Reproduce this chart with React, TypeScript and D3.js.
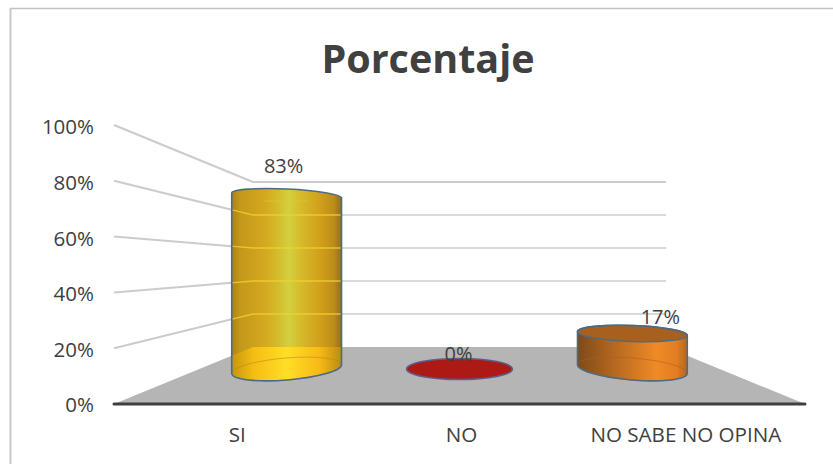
import React from "react";
import * as d3 from "d3";

const categories = ["SI", "NO", "NO SABE NO OPINA"];
const percentages = [83, 0, 17];
const dataLabels = ["83%", "0%", "17%"];
const axisTicks = [0, 20, 40, 60, 80, 100];

const WIDTH = 833;
const HEIGHT = 464;

// Perspective box: front and back edge of the chart floor and walls.
const front = { left: 114, right: 805, floor: 404, top: 125 };
const back = { left: 253, right: 666, floor: 347, top: 182 };
// Depth of the plane that holds the cylinders (0 = front edge, 1 = back edge).
const barDepth = 0.62;
const lerp = d3.interpolateNumber;

const planeLeft = lerp(front.left, back.left)(barDepth);
const planeRight = lerp(front.right, back.right)(barDepth);
const xLabels = d3.scaleBand<string>().domain(categories).range([125, 798]);
const xBars = d3
  .scaleBand<string>()
  .domain(categories)
  .range([planeLeft, planeRight])
  .paddingInner(0.365)
  .paddingOuter(0.1825);
const yFront = d3.scaleLinear().domain([0, 100]).range([front.floor, front.top]);
const yBack = d3.scaleLinear().domain([0, 100]).range([back.floor, back.top]);
const yBars = d3.scaleLinear().domain([0, 100]).range([369, 160]);

// Ellipse flattening and lean change with height because of the camera position.
const capRadius = d3.scaleLinear().domain([0, 17, 83]).range([10.5, 8, 6.5]);
const capTilt = d3.scaleLinear().domain([0, 17, 83]).range([9, 4, -5]);

// Data labels sit a little off the cylinder axis, as the spreadsheet places them.
const labelShift: [number, number][] = [[-3, -23], [-1, -8], [28, -9]];

type Palette = { id: string; stops: [number, string][]; lit: [number, string][]; cap: string | null; base: string };
const palettes: Palette[] = [
  {
    id: "gold",
    stops: [[0, "#a98413"], [0.08, "#c4981a"], [0.3, "#d4a81e"], [0.42, "#d4bc2c"], [0.52, "#d3d040"], [0.62, "#d6bc2b"], [0.8, "#d2a01c"], [0.93, "#bc8c18"], [1, "#8f7019"]],
    lit: [[0, "#c2960f"], [0.2, "#f5bd14"], [0.5, "#ffde26"], [0.8, "#f7b916"], [1, "#b98d12"]],
    cap: null,
    base: "#e9b015",
  },
  {
    id: "red",
    stops: [[0, "#ad1a16"], [1, "#ad1a16"]],
    lit: [[0, "#ad1a16"], [1, "#ad1a16"]],
    cap: "#ad1a16",
    base: "#ad1a16",
  },
  {
    id: "orange",
    stops: [[0, "#7d4a18"], [0.3, "#b0651f"], [0.72, "#f08a26"], [0.9, "#e27e22"], [1, "#b5661f"]],
    lit: [[0, "#7d4a18"], [0.3, "#b0651f"], [0.72, "#f08a26"], [0.9, "#e27e22"], [1, "#b5661f"]],
    cap: "#a8601f",
    base: "#e07c24",
  },
];

// Left and right end points of an ellipse with a given lean across its width.
function ends(cx: number, cy: number, rx: number, slope: number) {
  return { x0: cx - rx, y0: cy - slope * rx, x1: cx + rx, y1: cy + slope * rx };
}

function ellipsePath(cx: number, cy: number, rx: number, ry: number, slope: number) {
  const e = ends(cx, cy, rx, slope);
  const deg = (Math.atan(slope) * 180) / Math.PI;
  return `M${e.x0},${e.y0}A${rx},${ry} ${deg} 1 0 ${e.x1},${e.y1}A${rx},${ry} ${deg} 1 0 ${e.x0},${e.y0}Z`;
}

function Cylinder({ index }: { index: number }) {
  const name = categories[index];
  const value = percentages[index];
  const pal = palettes[index];
  const rx = xBars.bandwidth() / 2;
  const cx = xBars(name)! + rx;
  const side = Math.sign(Math.round(cx - (planeLeft + planeRight) / 2));
  const baseRy = value === 0 ? capRadius(0) : 11;
  const baseSlope = (side * capTilt(0)) / (2 * rx);
  const topSlope = (side * capTilt(value)) / (2 * rx);
  const topY = yBars(value);
  const baseY = yBars(0);
  const outline = "#4d6b85";

  if (value === 0) {
    return <path d={ellipsePath(cx, baseY, rx - 2, baseRy, 0)} fill={pal.base} stroke="#5a5f8c" strokeWidth={1.6} />;
  }

  const b = ends(cx, baseY, rx, baseSlope);
  const t = ends(cx, topY, rx, topSlope);
  const topDeg = (Math.atan(topSlope) * 180) / Math.PI;
  const baseDeg = (Math.atan(baseSlope) * 180) / Math.PI;
  const topR = capRadius(value);
  const body = `M${t.x0},${t.y0}L${b.x0},${b.y0}A${rx},${baseRy} ${baseDeg} 0 0 ${b.x1},${b.y1}L${t.x1},${t.y1}A${rx},${topR} ${topDeg} 0 0 ${t.x0},${t.y0}Z`;
  const clipId = `clip-${pal.id}`;

  // Wall lines bend at the back corner of the box and show through the cylinder.
  const ghostLines = axisTicks.slice(1, -1).filter((tick) => yBack(tick) > topY);

  return (
    <g>
      <clipPath id={clipId}>
        <path d={body} />
      </clipPath>
      <clipPath id={`${clipId}-floor`}>
        <polygon points={`${front.left},${front.floor} ${back.left},${back.floor} ${back.right},${back.floor} ${front.right},${front.floor}`} />
      </clipPath>
      <path d={body} fill={`url(#${pal.id}-body)`} />
      {index === 0 && (
        <g clipPath={`url(#${clipId})`}>
          <g clipPath={`url(#${clipId}-floor)`}>
            <rect x={cx - rx} y={back.floor} width={2 * rx} height={front.floor - back.floor} fill={`url(#${pal.id}-lit)`} />
          </g>
          {ghostLines.map((tick) => (
            <polyline
              key={tick}
              points={`${front.left},${yFront(tick)} ${back.left},${yBack(tick)} ${back.right},${yBack(tick)}`}
              fill="none"
              stroke="#f0d235"
              strokeWidth={1.3}
              opacity={0.8}
            />
          ))}
          <line x1={cx - 22} x2={cx + 22} y1={topY + 5.5} y2={topY + 5.5} stroke="#e8c62e" strokeWidth={1.2} opacity={0.55} />
        </g>
      )}
      <path d={ellipsePath(cx, baseY, rx, baseRy, baseSlope)} fill="none" stroke={pal.cap ?? "#b5861a"} strokeWidth={0.8} opacity={0.7} />
      {pal.cap && <path d={ellipsePath(cx, topY, rx, topR, topSlope)} fill={pal.cap} stroke={outline} strokeWidth={1.4} />}
      <path d={body} fill="none" stroke={outline} strokeWidth={1.6} />
    </g>
  );
}

export default function App() {
  const labelFont = "'Open Sans', sans-serif";
  const gridColor = "#cccccc";
  const text = "#404040";
  return (
    <svg
      width={WIDTH}
      height={HEIGHT}
      viewBox={`0 0 ${WIDTH} ${HEIGHT}`}
      style={{ position: "absolute", left: 0, top: 0, background: "#fff" }}
      fontFamily={labelFont}
    >
      <defs>
        {palettes.map((p) => (
          <React.Fragment key={p.id}>
            <linearGradient id={`${p.id}-body`} x1="0" x2="1" y1="0" y2="0">
              {p.stops.map(([o, c]) => (
                <stop key={o} offset={o} stopColor={c} />
              ))}
            </linearGradient>
            <linearGradient id={`${p.id}-lit`} x1="0" x2="1" y1="0" y2="0">
              {p.lit.map(([o, c]) => (
                <stop key={o} offset={o} stopColor={c} />
              ))}
            </linearGradient>
          </React.Fragment>
        ))}
      </defs>

      {/* Chart frame: only the top and left edges fall inside the view */}
      <line x1={10} x2={WIDTH} y1={8.5} y2={8.5} stroke="#c2c2c2" strokeWidth={1.6} />
      <line x1={10.5} x2={10.5} y1={8} y2={HEIGHT} stroke="#c8c8c8" strokeWidth={2} />

      <text x={428} y={73} textAnchor="middle" fontSize={39.5} fontWeight={700} fill={text}>
        Porcentaje
      </text>

      {/* Floor */}
      <polygon
        points={`${front.left},${front.floor} ${back.left},${back.floor} ${back.right},${back.floor} ${front.right},${front.floor}`}
        fill="#b5b5b5"
      />

      {/* Back wall and side wall grid lines */}
      {axisTicks.slice(1).map((tick) => (
        <g key={tick}>
          <line x1={back.left} x2={back.right} y1={yBack(tick)} y2={yBack(tick)} stroke={gridColor} strokeWidth={tick === 100 ? 2 : 1.3} />
          <line x1={front.left} x2={back.left} y1={yFront(tick)} y2={yBack(tick)} stroke={gridColor} strokeWidth={2} />
        </g>
      ))}

      {/* Value axis labels */}
      {axisTicks.map((tick) => (
        <text key={tick} x={94} y={yFront(tick) + 9 - (tick === 0 ? 1 : 0)} textAnchor="end" fontSize={20.5} fill={text}>
          {tick}%
        </text>
      ))}

      {/* Cylinders */}
      {categories.map((c, i) => (
        <Cylinder key={c} index={i} />
      ))}

      {/* Front axis line */}
      <line x1={front.left} x2={front.right} y1={front.floor} y2={front.floor} stroke="#3f3f3f" strokeWidth={3} strokeLinecap="round" />

      {/* Category labels */}
      {categories.map((c) => (
        <text key={c} x={xLabels(c)! + xLabels.bandwidth() / 2} y={442} textAnchor="middle" fontSize={20.6} fill={text}>
          {c}
        </text>
      ))}

      {/* Data labels */}
      {categories.map((c, i) => (
        <text
          key={c}
          x={xBars(c)! + xBars.bandwidth() / 2 + labelShift[i][0]}
          y={yBars(percentages[i]) + labelShift[i][1]}
          textAnchor="middle"
          fontSize={20}
          fill={text}
        >
          {dataLabels[i]}
        </text>
      ))}
    </svg>
  );
}
